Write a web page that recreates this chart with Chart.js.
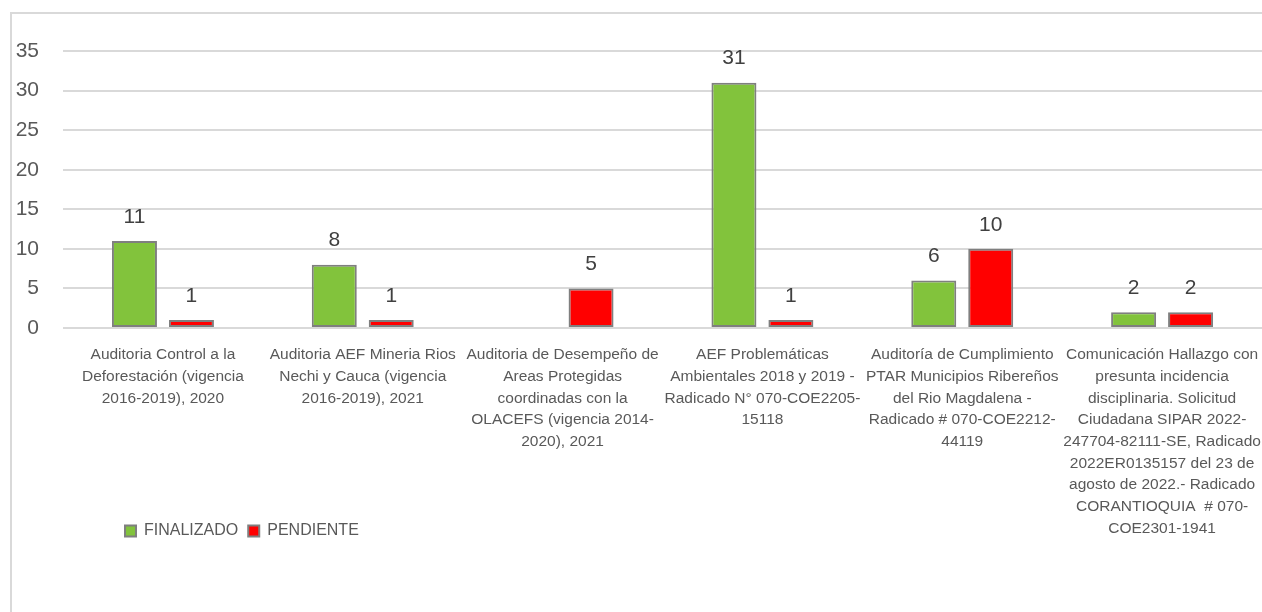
<!DOCTYPE html>
<html>
<head>
<meta charset="utf-8">
<script src="https://cdn.jsdelivr.net/npm/chart.js@4"></script>
<style>
  body { margin: 0; background: #fff; overflow: hidden; }
  #frame { position: absolute; left: 10px; top: 12px; width: 1262px; height: 610px; border: 2px solid #d9d9d9; }
  #chart { display: block; }
</style>
</head>
<body>
<div id="frame"><canvas id="chart" width="1250" height="598"></canvas></div>
<script>
const categories = [
  ['Auditoria Control a la', 'Deforestación (vigencia', '2016-2019), 2020'],
  ['Auditoria AEF Mineria Rios', 'Nechi y Cauca (vigencia', '2016-2019), 2021'],
  ['Auditoria de Desempeño de', 'Areas Protegidas', 'coordinadas con la', 'OLACEFS (vigencia 2014-', '2020), 2021'],
  ['AEF Problemáticas', 'Ambientales 2018 y 2019 -', 'Radicado N° 070-COE2205-', '15118'],
  ['Auditoría de Cumplimiento', 'PTAR Municipios Ribereños', 'del Rio Magdalena -', 'Radicado # 070-COE2212-', '44119'],
  ['Comunicación Hallazgo con', 'presunta incidencia', 'disciplinaria. Solicitud', 'Ciudadana SIPAR 2022-', '247704-82111-SE, Radicado', '2022ER0135157 del 23 de', 'agosto de 2022.- Radicado', 'CORANTIOQUIA  # 070-', 'COE2301-1941']
]
const finalizado = [11, 8, null, 31, 6, 2]
const pendiente = [1, 1, 5, 1, 10, 2]
const yTicks = [0, 5, 10, 15, 20, 25, 30, 35]

const font = "'Liberation Sans', Arial, sans-serif"

// numbers above each bar
const valueLabels = {
  id: 'valueLabels',
  afterDatasetsDraw(chart) {
    const ctx = chart.ctx
    ctx.save()
    ctx.font = '21px ' + font
    ctx.fillStyle = '#404040'
    ctx.textAlign = 'center'
    ctx.textBaseline = 'middle'
    chart.data.datasets.forEach((ds, i) => {
      chart.getDatasetMeta(i).data.forEach((bar, j) => {
        const v = ds.data[j]
        if (v == null) return
        ctx.fillText(String(v), bar.x, bar.y - 24)
      })
    })
    ctx.restore()
  }
}

// legend goes under the first categories, overlapping the tall last label's band
const legendSpot = {
  id: 'legendSpot',
  afterLayout(chart) {
    const lg = chart.legend
    const w = lg.right - lg.left, h = lg.bottom - lg.top
    lg.left = chart.chartArea.left + 52
    lg.right = lg.left + w
    lg.top = chart.chartArea.bottom + 185
    lg.bottom = lg.top + h
  }
}

new Chart(document.getElementById('chart'), {
  type: 'bar',
  data: {
    labels: categories,
    datasets: [{
      label: 'FINALIZADO',
      data: finalizado,
      backgroundColor: '#82c33c',
      borderColor: '#7f7f7f',
      borderWidth: 2,
      borderSkipped: false,
    }, {
      label: 'PENDIENTE',
      data: pendiente,
      backgroundColor: '#ff0000',
      borderColor: '#7f7f7f',
      borderWidth: 2,
      borderSkipped: false,
    }]
  },
  options: {
    responsive: false,
    animation: false,
    categoryPercentage: 0.57,
    barPercentage: 0.79,
    layout: { padding: { left: 4, top: 37, right: 0, bottom: 33 } },
    scales: {
      x: {
        grid: { display: false },
        border: { display: false },
        ticks: {
          autoSkip: false,
          maxRotation: 0,
          padding: 8,
          color: '#595959',
          font: { family: font, size: 15.5, lineHeight: 1.4 }
        },
        afterFit(scale) {
          scale.height = 215
          scale.paddingLeft = 0
          scale.paddingRight = 0
        }
      },
      y: {
        min: 0,
        max: 35,
        afterBuildTicks(scale) { scale.ticks = yTicks.map(v => ({ value: v })) },
        afterFit(scale) { scale.width = 47 },
        grid: { color: '#d9d9d9', lineWidth: 2, drawTicks: false },
        border: { display: false },
        ticks: {
          padding: 24,
          color: '#595959',
          font: { family: font, size: 21 }
        }
      }
    },
    plugins: {
      tooltip: { enabled: false },
      legend: {
        position: 'bottom',
        align: 'start',
        fullSize: false,
        labels: {
          boxWidth: 11,
          boxHeight: 11,
          padding: 10,
          color: '#595959',
          font: { family: font, size: 16 }
        }
      }
    }
  },
  plugins: [valueLabels, legendSpot]
})
</script>
</body>
</html>
